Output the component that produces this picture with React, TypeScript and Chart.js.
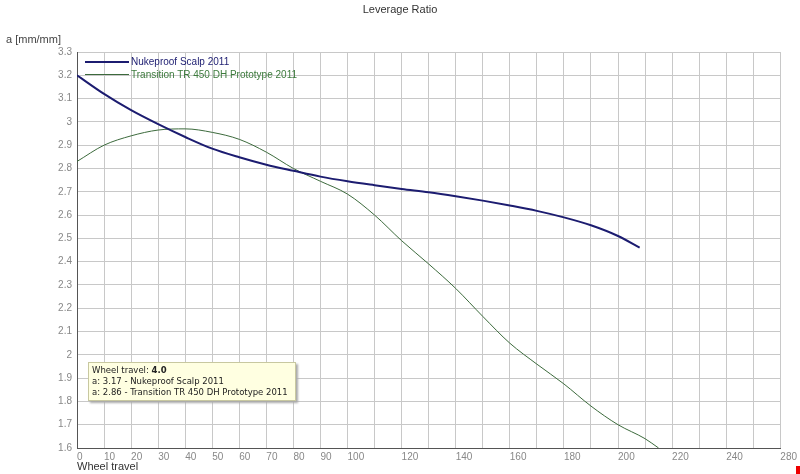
import React, { useEffect, useRef } from "react";
import { Chart, registerables } from "chart.js";
Chart.register(...registerables);

const travel = [0, 10, 20, 30, 40, 50, 60, 70, 80, 90, 100, 110, 120, 130, 140, 150, 160, 170, 180, 190, 200, 208];
const nukeproof = [3.2, 3.12, 3.05, 2.99, 2.935, 2.885, 2.848, 2.816, 2.79, 2.765, 2.745, 2.728, 2.712, 2.698, 2.681, 2.662, 2.641, 2.618, 2.59, 2.556, 2.51, 2.46];
const travel2 = [0, 10, 20, 30, 40, 50, 60, 70, 80, 90, 100, 110, 120, 130, 140, 150, 160, 170, 180, 190, 200, 210, 215];
const transition = [2.83, 2.9, 2.94, 2.965, 2.97, 2.955, 2.925, 2.87, 2.8, 2.745, 2.69, 2.6, 2.49, 2.39, 2.285, 2.165, 2.05, 1.96, 1.875, 1.78, 1.7, 1.64, 1.6];
const xTickLabels: Record<number, string> = { 0: "0", 10: "10", 20: "20", 30: "30", 40: "40", 50: "50", 60: "60", 70: "70", 80: "80", 90: "90", 100: "100", 120: "120", 140: "140", 160: "160", 180: "180", 200: "200", 220: "220", 240: "240", 260: "280" };

export default function App() {
  const ref = useRef<HTMLCanvasElement>(null);
  useEffect(() => {
    const c = new Chart(ref.current!, {
      type: "line",
      data: {
        datasets: [
          { data: travel.map((x, i) => ({ x, y: nukeproof[i] })), borderColor: "#1c1c70", borderWidth: 2, pointRadius: 0, cubicInterpolationMode: "monotone" },
          { data: travel2.map((x, i) => ({ x, y: transition[i] })), borderColor: "#3c6a3c", borderWidth: 1, pointRadius: 0, cubicInterpolationMode: "monotone" },
        ],
      },
      options: {
        animation: false, responsive: false,
        layout: { padding: { top: 52, right: 12, left: 0, bottom: 0 } },
        plugins: { legend: { display: false }, tooltip: { enabled: false } },
        scales: {
          x: {
            type: "linear", min: 0, max: 260,
            afterFit: (s: any) => { s.height = 26; },
            border: { color: "#555" },
            grid: { color: "#c8c8c8", drawTicks: false },
            ticks: { stepSize: 10, align: "start", padding: 3, color: "#888", font: { family: "Liberation Sans", size: 10 },
              callback: (v: any) => xTickLabels[v] ?? "", autoSkip: false, maxRotation: 0 },
          },
          y: {
            min: 1.6, max: 3.3,
            afterFit: (s: any) => { s.width = 77; },
            border: { color: "#555" },
            grid: { color: "#c8c8c8", drawTicks: false },
            ticks: { stepSize: 0.1, padding: 5, color: "#888", font: { family: "Liberation Sans", size: 10 },
              callback: (v: any) => String(Math.round(v * 10) / 10) },
          },
        },
      },
    });
    return () => c.destroy();
  }, []);
  const f = "Liberation Sans, Arial, sans-serif";
  return (
    <div style={{ position: "fixed", left: 0, top: 0, width: 800, height: 474, background: "#fff", fontFamily: f }}>
      <canvas ref={ref} width={800} height={474} style={{ position: "absolute", left: 0, top: 0 }} />
      <div style={{ position: "absolute", top: 3, width: 800, textAlign: "center", fontSize: 11, color: "#333" }}>Leverage Ratio</div>
      <div style={{ position: "absolute", top: 33, left: 6, fontSize: 11, color: "#444" }}>a [mm/mm]</div>
      <div style={{ position: "absolute", top: 460, left: 77, fontSize: 11, color: "#333" }}>Wheel travel</div>
      <div style={{ position: "absolute", top: 55, left: 85, fontSize: 10, lineHeight: "13px" }}>
        <div style={{ display: "flex", alignItems: "center", color: "#1c1c70" }}><span style={{ width: 44, height: 2, background: "#1c1c70", marginRight: 2 }} />Nukeproof Scalp 2011</div>
        <div style={{ display: "flex", alignItems: "center", color: "#3c7a3c" }}><span style={{ width: 44, height: 1, background: "#3c6a3c", marginRight: 2 }} />Transition TR 450 DH Prototype 2011</div>
      </div>
      <div style={{ position: "absolute", left: 88, top: 362, width: 200, padding: "2px 3px", background: "#ffffe1", border: "1px solid #c8c8a0", boxShadow: "2px 2px 2px #aaa", fontSize: 8.5, lineHeight: "11px", color: "#222", fontFamily: "DejaVu Sans" }}>
        <div>Wheel travel: <b>4.0</b></div>
        <div>a: 3.17 - Nukeproof Scalp 2011</div>
        <div>a: 2.86 - Transition TR 450 DH Prototype 2011</div>
      </div>
      <div style={{ position: "absolute", left: 796, top: 466, width: 4, height: 8, background: "#e00" }} />
    </div>
  );
}
